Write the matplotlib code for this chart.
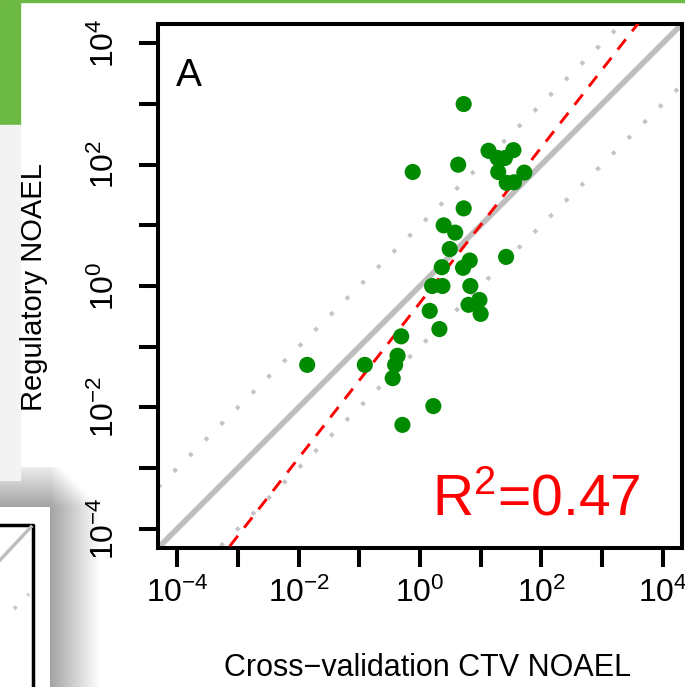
import numpy as np
from matplotlib import pyplot as plt
from matplotlib.patches import Rectangle
from matplotlib.ticker import FixedLocator, FixedFormatter, NullLocator

plt.rcParams["font.family"] = ["Liberation Sans", "DejaVu Sans"]
plt.rcParams["mathtext.fontset"] = "custom"
plt.rcParams["mathtext.rm"] = "Liberation Sans"
plt.rcParams["mathtext.it"] = "Liberation Sans"

# Data (log10 values)
#----------------------------------------------------
log_ctv = [0.72, 1.13, 1.54, 1.28, 1.40, -0.12, 0.63, 1.29, 1.43, 1.55,
           1.72, 0.72, 0.39, 0.58, 0.49, 0.36, 0.82, 0.71, 1.42, 0.20,
           0.37, 0.83, 0.16, 0.80, 0.98, 1.00, 0.32, -0.31, -0.37, -0.41,
           -0.45, -0.91, -1.86, 0.22, -0.29]
log_noael = [3.00, 2.23, 2.24, 2.11, 2.11, 1.88, 2.00, 1.88, 1.70, 1.71,
             1.87, 1.28, 1.00, 0.88, 0.61, 0.31, 0.42, 0.30, 0.48, 0.00,
             0.00, 0.00, -0.41, -0.31, -0.23, -0.46, -0.71, -0.83, -1.15, -1.30,
             -1.52, -1.30, -1.30, -1.98, -2.29]

fit_slope = 1.28
fit_intercept = -0.275
r2 = "0.47"

decades = [-4, -3, -2, -1, 0, 1, 2, 3, 4]
lim = 4.32


# Figure
#----------------------------------------------------
fig = plt.figure(figsize=(6.85, 6.87), dpi=100)
ax = fig.add_axes([158/685, 1 - 548/687, 524/685, 524/687])
ax.set_zorder(2)

x = 10.0**np.array(log_ctv)
y = 10.0**np.array(log_noael)

line = np.array([-lim, lim])
ax.plot(10**line, 10**line, color="#bebebe", linewidth=4.0, zorder=2)
ax.plot(10**line, 10**(line + 1), color="#c4c4c4", linewidth=2.9,
        linestyle=(0, (1, 4.5)), dash_capstyle="butt", zorder=2)
ax.plot(10**line, 10**(line - 1), color="#c4c4c4", linewidth=2.9,
        linestyle=(0, (1, 4.5)), dash_capstyle="butt", zorder=2)
ax.plot(10**line, 10**(fit_slope*line + fit_intercept), color="red",
        linewidth=2.1, linestyle=(0, (4.5, 3.5)), zorder=3)

ax.scatter(x, y, s=135, color="#008a00", edgecolor="none", zorder=4)

ax.set_xscale("log")
ax.set_yscale("log")
ax.set_xlim(10**-lim, 10**lim)
ax.set_ylim(10**-lim, 10**lim)

labels = [f"$10^{{{d}}}$" if d % 2 == 0 else "" for d in decades]
for axis in (ax.xaxis, ax.yaxis):
    axis.set_major_locator(FixedLocator([10.0**d for d in decades]))
    axis.set_major_formatter(FixedFormatter(labels))
    axis.set_minor_locator(NullLocator())

ax.tick_params(axis="both", which="major", direction="out", length=13.5,
               width=2.9, labelsize=23)
ax.tick_params(axis="x", pad=8)
ax.tick_params(axis="y", pad=13)
for lab in ax.get_yticklabels():
    lab.set_rotation(90)
    lab.set_va("center")
for s in ax.spines.values():
    s.set_linewidth(2.9)

ax.text(0.035, 0.935, "A", transform=ax.transAxes, fontsize=28, va="top", ha="left")
ax.text(10**1.91, 10**-3.79, "R$^2$=" + r2,
        color="red", fontsize=41, ha="center", va="baseline")

fig.text(428/685, 1 - 668/687, "Cross\u2212validation CTV NOAEL", fontsize=22,
         ha="center", va="center")
fig.text(34/685, 1 - 287/687, "Regulatory NOAEL", fontsize=21, rotation=90,
         ha="center", va="center")

# screenshot surroundings
fig.patches.append(Rectangle((20/685, 1 - 2/687), 665/685, 2/687,
                             transform=fig.transFigure, color="#6cb944"))
fig.patches.append(Rectangle((0, 1 - 125/687), 20/685, 125/687,
                             transform=fig.transFigure, color="#6cb944"))
fig.patches.append(Rectangle((0, 1 - 480/687), 20/685, 355/687,
                             transform=fig.transFigure, color="#f3f3f3"))

sh = fig.add_axes([0, 0, 110/685, 220/687])
sh.set_zorder(0)
sh.set_axis_off()
px, py = np.meshgrid(np.arange(110), np.arange(220))
dist = np.maximum(px - 50, 0) + np.maximum(py - 180, 0)
shade = 0.64 + 0.36*np.clip(dist/50.0, 0, 1)
shade[(px < 50) & (py < 180)] = 1.0
sh.imshow(shade, cmap="gray", vmin=0, vmax=1, origin="lower",
          extent=[0, 110, 0, 220], aspect="auto")
sh.set_xlim(0, 110)
sh.set_ylim(0, 220)
sh.plot([0, 33, 33], [162, 162, 0], color="black", linewidth=2.5)
sh.plot([0, 31], [127, 160], color="#bebebe", linewidth=2.5)
sh.plot([14, 29], [78, 93], color="#c4c4c4", linewidth=2.5,
        linestyle=(0, (1, 4.5)))

fig.savefig("out.png", dpi=100)
